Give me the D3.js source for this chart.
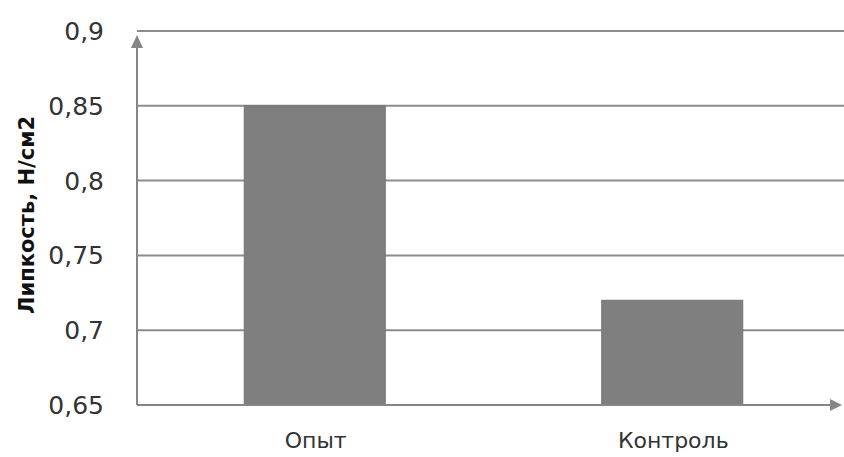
<!DOCTYPE html>
<html>
<head>
<meta charset="utf-8">
<script src="https://cdn.jsdelivr.net/npm/d3@7"></script>
<style>
  html, body { margin: 0; padding: 0; background: #fff; }
  svg { display: block; }
</style>
</head>
<body>
<svg id="chart" width="844" height="457"></svg>
<script>
// Chart data
const categories = ["Опыт", "Контроль"];
const values = [0.85, 0.72];
const tickValues = [0.65, 0.7, 0.75, 0.8, 0.85, 0.9];
const tickLabels = ["0,65", "0,7", "0,75", "0,8", "0,85", "0,9"];
const yTitle = "Липкость, Н/см2";

const svg = d3.select("#chart");
const margin = { left: 137, right: -8, top: 31, bottom: 52 };
const W = 844, H = 457;

const x = d3.scaleBand()
  .domain(categories)
  .range([margin.left, W - margin.right])
  .paddingInner(0.6)
  .paddingOuter(0.3);

const y = d3.scaleLinear()
  .domain([0.65, 0.9])
  .range([H - margin.bottom, margin.top]);

const gridColor = "#8c8c8c";

// Horizontal gridlines
svg.append("g")
  .selectAll("line")
  .data(tickValues.slice(1))
  .join("line")
  .attr("x1", margin.left)
  .attr("x2", W)
  .attr("y1", d => y(d))
  .attr("y2", d => y(d))
  .attr("stroke", gridColor)
  .attr("stroke-width", 2);

// Bars
svg.append("g")
  .selectAll("rect")
  .data(values)
  .join("rect")
  .attr("x", (d, i) => x(categories[i]))
  .attr("width", x.bandwidth() - 2)
  .attr("y", d => y(d))
  .attr("height", d => y(0.65) - y(d))
  .attr("fill", "#7f7f7f")
  .attr("stroke", "#747474")
  .attr("stroke-width", 1);

// Axes with arrowheads
const axisColor = "#868686";
const y0 = y(0.65);
svg.append("line")
  .attr("x1", margin.left).attr("x2", 832)
  .attr("y1", y0).attr("y2", y0)
  .attr("stroke", axisColor).attr("stroke-width", 2);
svg.append("path")
  .attr("d", `M842,${y0} L830,${y0 - 6} L830,${y0 + 6} Z`)
  .attr("fill", axisColor);

svg.append("line")
  .attr("x1", margin.left).attr("x2", margin.left)
  .attr("y1", y0).attr("y2", 46)
  .attr("stroke", axisColor).attr("stroke-width", 2);
svg.append("path")
  .attr("d", `M${margin.left},35 L${margin.left - 6},48 L${margin.left + 6},48 Z`)
  .attr("fill", axisColor);

// Y tick labels
svg.append("g")
  .selectAll("text")
  .data(tickValues)
  .join("text")
  .attr("x", 104)
  .attr("y", d => y(d))
  .attr("dy", "0.36em")
  .attr("text-anchor", "end")
  .attr("font-family", "DejaVu Sans, sans-serif")
  .attr("font-size", 25)
  .attr("fill", "#333")
  .text((d, i) => tickLabels[i]);

// Category labels
svg.append("g")
  .selectAll("text")
  .data(categories)
  .join("text")
  .attr("x", d => x(d) + x.bandwidth() / 2)
  .attr("y", 448)
  .attr("text-anchor", "middle")
  .attr("font-family", "DejaVu Sans, sans-serif")
  .attr("font-size", 22)
  .attr("fill", "#333")
  .text(d => d);

// Y axis title
svg.append("text")
  .attr("transform", "translate(34,215) rotate(-90)")
  .attr("text-anchor", "middle")
  .attr("font-family", "DejaVu Sans, sans-serif")
  .attr("font-weight", "bold")
  .attr("font-size", 21)
  .attr("fill", "#111")
  .text(yTitle);
</script>
</body>
</html>
